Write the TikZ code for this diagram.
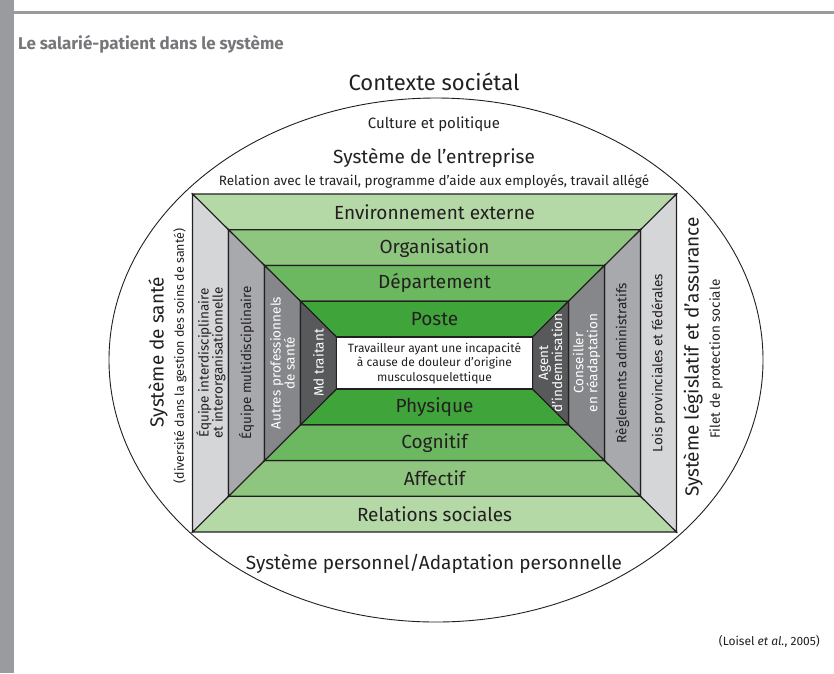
\documentclass[tikz,border=0pt]{standalone}
\usepackage{fontspec}
\setmainfont{Fira Sans}
\usepackage{xcolor}
\definecolor{barGrey}{HTML}{9A9B9E}
\definecolor{titleGrey}{HTML}{76777A}
\definecolor{inkBlack}{HTML}{231F20}
\definecolor{greenA}{HTML}{B5D8A7}
\definecolor{greenB}{HTML}{8EC680}
\definecolor{greenC}{HTML}{6CB860}
\definecolor{greenD}{HTML}{3FA53B}
\definecolor{greyA}{HTML}{D5D6D8}
\definecolor{greyB}{HTML}{A7A9AC}
\definecolor{greyC}{HTML}{85878A}
\definecolor{greyD}{HTML}{58595B}
\usetikzlibrary{positioning}

\tikzset{
  band/.style={draw=inkBlack, line width=1.1pt, line join=miter},
  lbl/.style={text=inkBlack, inner sep=0pt, align=center},
  bigtxt/.style={lbl, font=\fontsize{19}{21}\selectfont},
  midtxt/.style={lbl, font=\fontsize{15}{17}\selectfont},
  smalltxt/.style={lbl, font=\fontsize{13.5}{15}\selectfont},
  sidetxt/.style={lbl, rotate=90, font=\fontsize{13.5}{14}\selectfont},
}

\begin{document}
\begin{tikzpicture}[x=1pt,y=-1pt]
\useasboundingbox (0,0) rectangle (834,673);
\fill[barGrey] (0,0) rectangle (14,673);
\fill[barGrey] (14,11) rectangle (834,14);
\node[anchor=west, inner sep=0pt, text=titleGrey, font=\bfseries\fontsize{17}{19}\selectfont] (title) at (18,44) {Le salarié-patient dans le système};

\draw[inkBlack, line width=0.9pt] (436,360) ellipse [x radius=327, y radius=262];

\begin{scope}[shift={(434.5,363)}]
\foreach \k/\gc/\sc in {0/greenA/greyA,1/greenB/greyB,2/greenC/greyC,3/greenD/greyD} {
  \pgfmathsetmacro\ow{242-36*\k}
  \pgfmathsetmacro\oh{169-35.75*\k}
  \pgfmathsetmacro\iw{\ow-36}
  \pgfmathsetmacro\ih{\oh-35.75}
  \filldraw[band, fill=\gc] (-\ow,-\oh) -- (\ow,-\oh) -- (\iw,-\ih) -- (-\iw,-\ih) -- cycle;
  \filldraw[band, fill=\gc] (-\ow,\oh) -- (\ow,\oh) -- (\iw,\ih) -- (-\iw,\ih) -- cycle;
  \filldraw[band, fill=\sc] (-\ow,-\oh) -- (-\iw,-\ih) -- (-\iw,\ih) -- (-\ow,\oh) -- cycle;
  \filldraw[band, fill=\sc] (\ow,-\oh) -- (\iw,-\ih) -- (\iw,\ih) -- (\ow,\oh) -- cycle;
}
\node[band, fill=white, minimum width=196pt, minimum height=52pt, inner sep=0pt,
  align=center, text=inkBlack, font=\fontsize{12}{14.5}\selectfont] (worker) at (0,0)
  {Travailleur ayant une incapacité\\à cause de douleur d’origine\\musculosquelettique};
\end{scope}

\node[lbl, font=\fontsize{22}{24}\selectfont] (context) at (434,82) {Contexte sociétal};
\node[midtxt] (culture) at (434,124) {Culture et politique};
\node[bigtxt] (enterprise) at (434,158) {Système de l’entreprise};
\node[smalltxt] (enterprisesub) at (434,182) {Relation avec le travail, programme d’aide aux employés, travail allégé};
\node[bigtxt] (personal) at (434,564) {Système personnel/Adaptation personnelle};

\node[bigtxt] (extenv) at (434.5,212) {Environnement externe};
\node[bigtxt] (org) at (434.5,248) {Organisation};
\node[bigtxt] (dept) at (434.5,283) {Département};
\node[bigtxt] (post) at (434.5,319) {Poste};
\node[bigtxt] (phys) at (434.5,407) {Physique};
\node[bigtxt] (cogn) at (434.5,443) {Cognitif};
\node[bigtxt] (affect) at (434.5,478) {Affectif};
\node[bigtxt] (social) at (434.5,514) {Relations sociales};

\node[sidetxt] (interteam) at (211,363) {Équipe interdisciplinaire\\et interorganisationnelle};
\node[sidetxt] (multiteam) at (246.5,363) {Équipe multidisciplinaire};
\node[sidetxt, text=white] (otherpro) at (282.5,363) {Autres professionnels\\de santé};
\node[sidetxt, text=white] (doctor) at (318.5,363) {Md traitant};
\node[sidetxt, text=white] (agent) at (550.5,363) {Agent\\d’indemnisation};
\node[sidetxt, text=white] (counsel) at (586.5,363) {Conseiller\\en réadaptation};
\node[sidetxt] (rules) at (622.5,363) {Règlements administratifs};
\node[sidetxt] (laws) at (658.5,363) {Lois provinciales et fédérales};

\node[bigtxt, rotate=90] (health) at (158,352) {Système de santé};
\node[lbl, rotate=90, font=\fontsize{12.5}{14}\selectfont] (healthsub) at (180,356) {(diversité dans la gestion des soins de santé)};
\node[bigtxt, rotate=90] (legal) at (693,357) {Système législatif et d’assurance};
\node[sidetxt] (legalsub) at (716,359) {Filet de protection sociale};

\node[lbl, anchor=east, font=\fontsize{12}{14}\selectfont] (source) at (820,641) {(Loisel \textit{et al.}, 2005)};
\end{tikzpicture}
\end{document}
